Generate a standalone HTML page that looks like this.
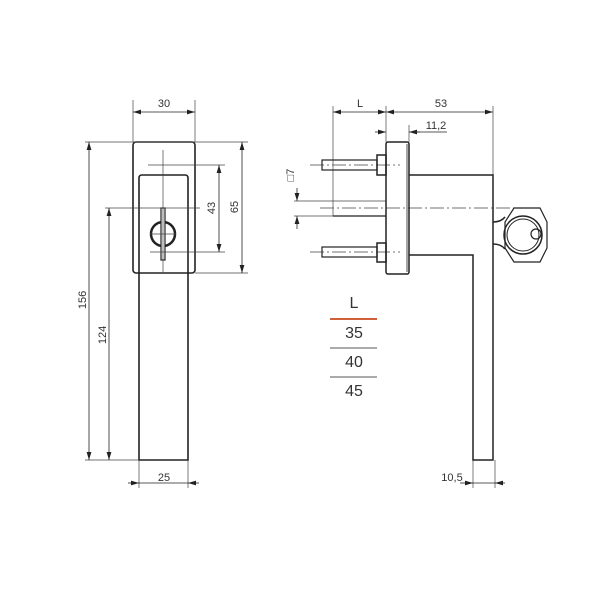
<!DOCTYPE html>
<html><head><meta charset="utf-8"><style>body{margin:0;background:#fff}svg{display:block}text{font-family:"Liberation Sans",sans-serif;fill:#333}</style></head><body>
<svg width="600" height="600" viewBox="0 0 600 600" xmlns="http://www.w3.org/2000/svg">
<defs><marker id="a" viewBox="0 0 10 6" refX="10" refY="3" markerWidth="8" markerHeight="5" orient="auto-start-reverse" markerUnits="userSpaceOnUse"><path d="M0,0L10,3L0,6z" fill="#222"/></marker></defs>
<g fill="none" stroke="#222" stroke-width="1.6">
<rect x="133" y="142" width="62" height="131" rx="3"/>
<path d="M139,460V178q0-3 3-3h43q3 0 3 3V460z"/>
<circle cx="163" cy="234" r="12" stroke-width="2.5"/>
<rect x="161" y="208" width="4" height="52" stroke-width="1.2" fill="#fff"/>
</g>
<g fill="none" stroke="#444" stroke-width="0.7">
<line x1="163" y1="150" x2="163" y2="272"/>
<line x1="150" y1="208" x2="200" y2="208"/>
<line x1="150" y1="234" x2="176" y2="234"/>
<line x1="133" y1="100" x2="133" y2="142"/><line x1="195" y1="100" x2="195" y2="142"/>
<line x1="85" y1="142" x2="248" y2="142"/>
<line x1="195" y1="273" x2="248" y2="273"/>
<line x1="148" y1="165" x2="225" y2="165"/><line x1="150" y1="252" x2="225" y2="252"/>
<line x1="105" y1="208" x2="150" y2="208"/>
<line x1="85" y1="460" x2="139" y2="460"/>
<line x1="139" y1="460" x2="139" y2="488"/><line x1="188" y1="460" x2="188" y2="488"/>
<line x1="473" y1="460" x2="473" y2="488"/><line x1="495" y1="460" x2="495" y2="488"/>
</g>
<g stroke="#222" stroke-width="0.8" fill="none">
<line x1="133" y1="112" x2="195" y2="112" marker-start="url(#a)" marker-end="url(#a)"/>
<line x1="242" y1="142" x2="242" y2="273" marker-start="url(#a)" marker-end="url(#a)"/>
<line x1="219" y1="165" x2="219" y2="252" marker-start="url(#a)" marker-end="url(#a)"/>
<line x1="89" y1="142" x2="89" y2="460" marker-start="url(#a)" marker-end="url(#a)"/>
<line x1="109" y1="208" x2="109" y2="460" marker-start="url(#a)" marker-end="url(#a)"/>
<line x1="128" y1="483" x2="139" y2="483" marker-end="url(#a)"/><line x1="199" y1="483" x2="188" y2="483" marker-end="url(#a)"/><line x1="139" y1="483" x2="188" y2="483"/>
<line x1="460" y1="483" x2="473" y2="483" marker-end="url(#a)"/><line x1="505" y1="483" x2="495" y2="483" marker-end="url(#a)"/><line x1="473" y1="483" x2="495" y2="483"/>
<line x1="333" y1="112" x2="386" y2="112" marker-start="url(#a)" marker-end="url(#a)"/>
<line x1="386" y1="112" x2="493" y2="112" marker-start="url(#a)" marker-end="url(#a)"/>
<line x1="375" y1="132" x2="386" y2="132" marker-end="url(#a)"/><line x1="420" y1="132" x2="409" y2="132" marker-end="url(#a)"/><line x1="409" y1="132" x2="447" y2="132"/>
<line x1="297" y1="188" x2="297" y2="201" marker-end="url(#a)"/><line x1="297" y1="229" x2="297" y2="216" marker-end="url(#a)"/>
</g>
<g fill="none" stroke="#444" stroke-width="0.7">
<line x1="333" y1="106" x2="333" y2="216"/><line x1="386" y1="106" x2="386" y2="142"/><line x1="493" y1="106" x2="493" y2="175"/><line x1="409" y1="125" x2="409" y2="142"/>
<line x1="294" y1="201" x2="386" y2="201"/><line x1="294" y1="216" x2="386" y2="216"/>
<line x1="320" y1="208" x2="537" y2="208" stroke-dasharray="14,3,2,3"/>
<line x1="310" y1="165" x2="400" y2="165" stroke-dasharray="14,3,2,3"/>
<line x1="310" y1="252" x2="400" y2="252" stroke-dasharray="14,3,2,3"/>
</g>
<g fill="none" stroke="#222" stroke-width="1.5">
<rect x="386" y="142" width="23" height="132" rx="2"/>
<line x1="407" y1="144" x2="407" y2="272" stroke-width="0.8"/>
<rect x="377" y="155" width="9" height="20"/><rect x="377" y="243" width="9" height="19"/>
<rect x="322" y="160" width="55" height="10" stroke-width="1.2"/><rect x="322" y="247" width="55" height="10" stroke-width="1.2"/>
<line x1="333" y1="216" x2="386" y2="216" stroke-width="1.2"/>
<path d="M409,175H493V460H473V255H409"/>
<path d="M493,222q8 0 12-5M493,244q8 0 12 5"/>
<path d="M514,208H540L547,222V248L540,262H514L505,248V222z" stroke-width="1.2"/>
<circle cx="523" cy="235" r="19"/>
<circle cx="523" cy="235" r="16" stroke-width="1"/>
<circle cx="536" cy="234" r="5" stroke-width="1.2"/>
</g>
<g font-size="11">
<text x="164" y="107" text-anchor="middle">30</text>
<text x="164" y="481" text-anchor="middle">25</text>
<text x="452" y="481" text-anchor="middle">10,5</text>
<text x="360" y="107" text-anchor="middle">L</text>
<text x="441" y="107" text-anchor="middle">53</text>
<text x="436" y="129" text-anchor="middle">11,2</text>
<text transform="translate(238,207) rotate(-90)" text-anchor="middle">65</text>
<text transform="translate(215,208) rotate(-90)" text-anchor="middle">43</text>
<text transform="translate(86,300) rotate(-90)" text-anchor="middle">156</text>
<text transform="translate(106,335) rotate(-90)" text-anchor="middle">124</text>
<text transform="translate(294,175) rotate(-90)" text-anchor="middle">□7</text>
</g>
<g font-size="16" text-anchor="middle">
<text x="354" y="308">L</text>
<text x="354" y="338">35</text>
<text x="354" y="367">40</text>
<text x="354" y="396">45</text>
</g>
<line x1="330" y1="319" x2="377" y2="319" stroke="#d0603a" stroke-width="2"/>
<line x1="330" y1="348" x2="377" y2="348" stroke="#555" stroke-width="1"/>
<line x1="330" y1="377" x2="377" y2="377" stroke="#555" stroke-width="1"/>
</svg>
</body></html>
